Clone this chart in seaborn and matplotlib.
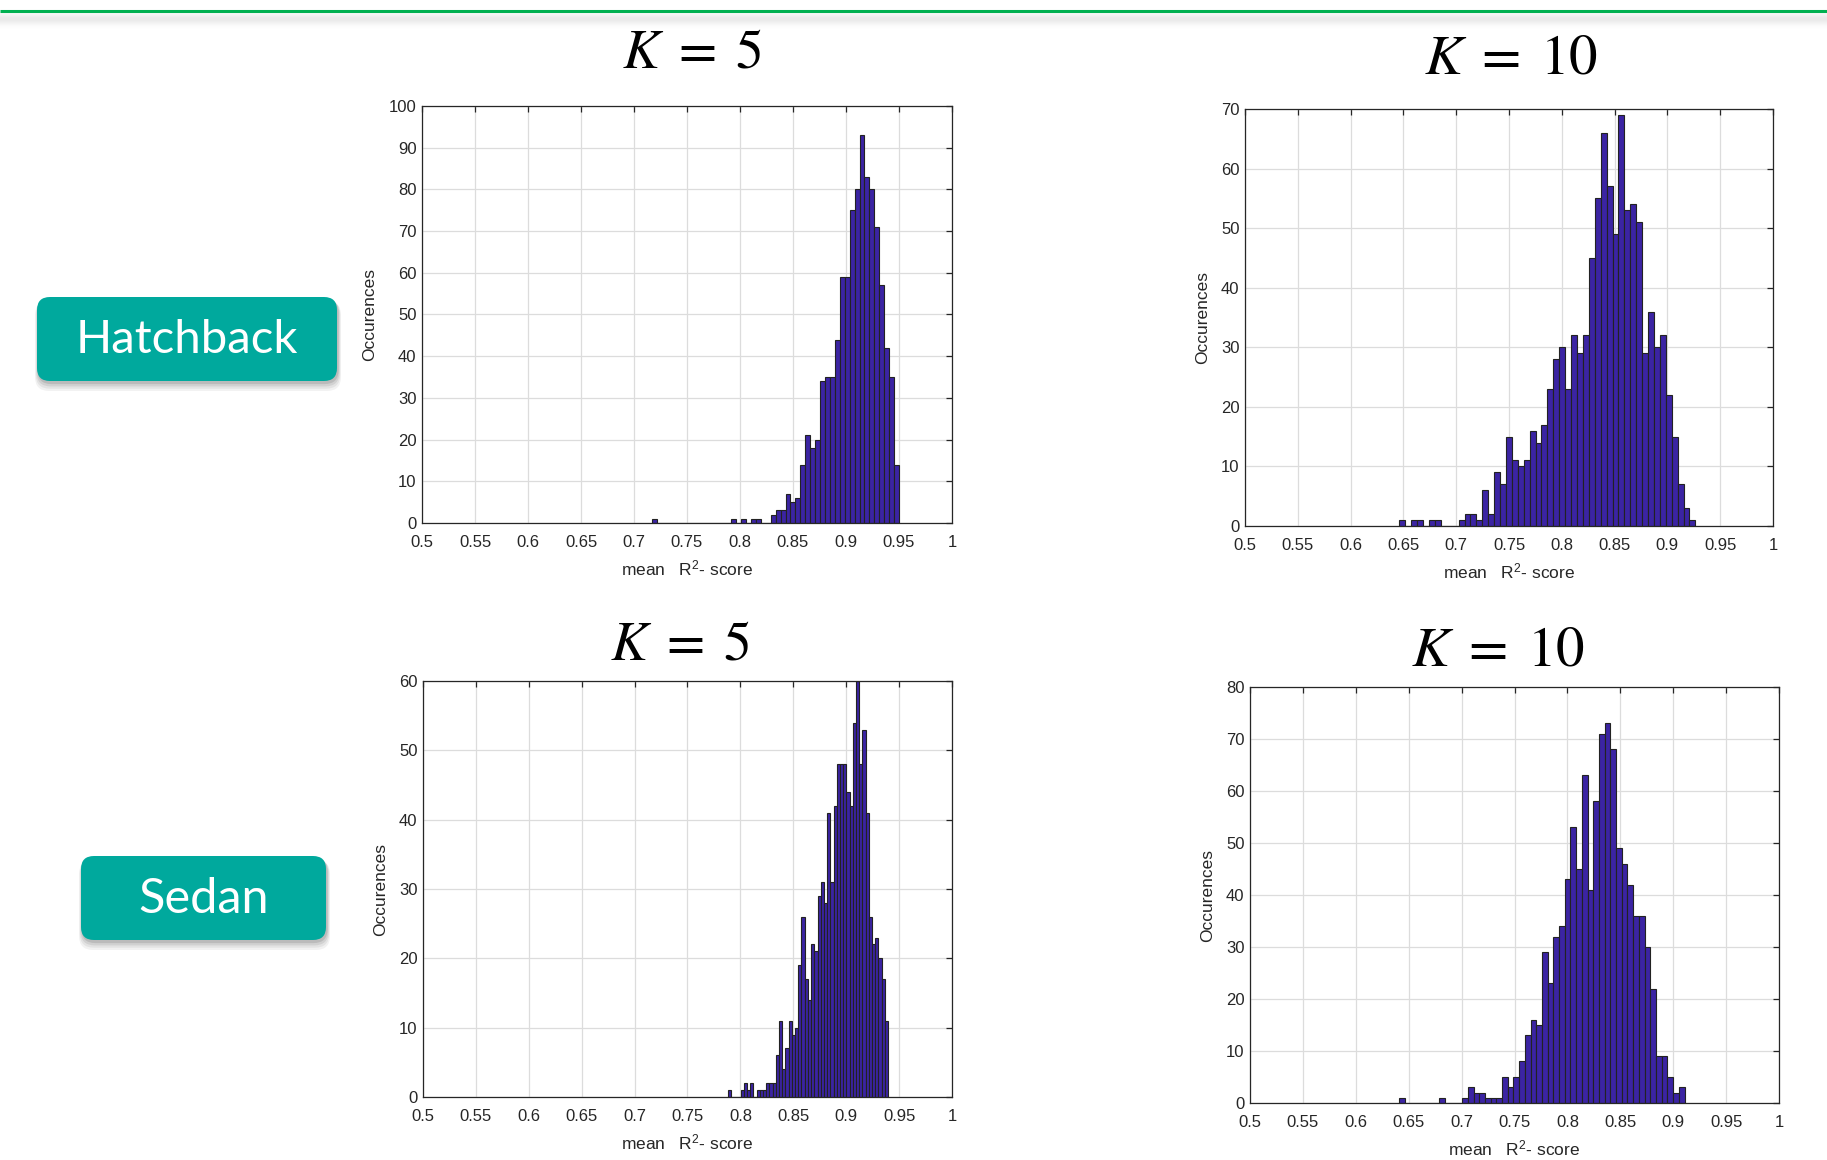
import numpy as np
import pandas as pd
import matplotlib
matplotlib.use("Agg")
import matplotlib.pyplot as plt
import seaborn as sns
from matplotlib.patches import FancyBboxPatch

# ---------------- data ----------------
# 50-bin histograms of the mean R^2 score (1000 runs each)
hatch_k5_counts = [1, 0, 0, 0, 0, 0, 0, 0, 0, 0,
                   0, 0, 0, 0, 0, 0, 1, 0, 1, 0,
                   1, 1, 0, 0, 2, 3, 3, 7, 5, 6,
                   14, 21, 18, 20, 34, 35, 35, 44, 59, 59,
                   75, 80, 93, 83, 80, 71, 57, 42, 35, 14]
hatch_k5_range = (0.7173, 0.9500)

hatch_k10_counts = [1, 0, 1, 1, 0, 1, 1, 0, 0, 0,
                    1, 2, 2, 1, 6, 2, 9, 7, 15, 11,
                    10, 11, 16, 14, 17, 23, 28, 30, 23, 32,
                    29, 32, 45, 55, 66, 57, 49, 69, 53, 54,
                    51, 29, 36, 30, 32, 22, 15, 7, 3, 1]
hatch_k10_range = (0.6462, 0.9265)

sedan_k5_counts = [1, 0, 0, 0, 1, 2, 1, 2, 0, 1,
                   1, 1, 2, 2, 2, 6, 11, 4, 7, 11,
                   9, 10, 19, 26, 17, 14, 22, 21, 29, 31,
                   28, 41, 31, 42, 48, 48, 48, 44, 42, 54,
                   60, 48, 53, 41, 26, 22, 23, 20, 17, 11]
sedan_k5_range = (0.7880, 0.9396)

sedan_k10_counts = [1, 0, 0, 0, 0, 0, 0, 1, 0, 0,
                    0, 1, 3, 2, 2, 1, 1, 1, 5, 3,
                    5, 8, 13, 16, 15, 29, 23, 32, 34, 43,
                    53, 45, 63, 41, 58, 71, 73, 68, 49, 46,
                    42, 36, 36, 30, 22, 9, 9, 5, 2, 3]
sedan_k10_range = (0.6412, 0.9107)

panel_titles = ["$K\\;=\\;5$", "$K\\;=\\;10$", "$K\\;=\\;5$", "$K\\;=\\;10$"]
y_max = [100, 70, 60, 80]
x_tick_values = [0.5, 0.55, 0.6, 0.65, 0.7, 0.75, 0.8, 0.85, 0.9, 0.95, 1.0]
x_tick_labels = ["0.5", "0.55", "0.6", "0.65", "0.7", "0.75", "0.8", "0.85", "0.9", "0.95", "1"]
row_labels = ["Hatchback", "Sedan"]
x_label = "mean   $\\mathregular{R^2}$- score"
y_label = "Occurences"

# ---------------- style ----------------
sns.set_theme(style="white")
plt.rcParams["font.family"] = ["Liberation Sans", "DejaVu Sans"]
plt.rcParams["mathtext.fontset"] = "stix"

W, H = 1827, 1160
BAR = "#3b24a3"
EDGE = "#222222"
TEAL = "#00a99d"
TXT = "#262626"

fig = plt.figure(figsize=(W / 100, H / 100), dpi=100)
fig.patch.set_facecolor("white")

# background "slide" axes in pixel coordinates
bg = fig.add_axes([0, 0, 1, 1])
bg.set_xlim(0, W)
bg.set_ylim(H, 0)
bg.axis("off")

# top green rule with soft shadow
yy = np.linspace(12, 32, 40)
shade = 1 - 0.085 * np.exp(-((yy - 19) / 5.5) ** 2)
bg.imshow(shade[:, None], extent=[0, W, 32, 12], cmap="gray", vmin=0, vmax=1,
          aspect="auto", interpolation="bilinear", zorder=1)
bg.plot([0, W], [10.7, 10.7], color="#00b050", lw=2.2, solid_capstyle="butt", zorder=2)
bg.set_xlim(0, W)
bg.set_ylim(H, 0)


def label_box(x0, y0, x1, y1, text, fs):
    w, h = x1 - x0, y1 - y0
    for i, a in enumerate([0.05, 0.06, 0.08, 0.10]):
        off = 7 - i * 1.5
        grow = 3 - i * 0.8
        sh = FancyBboxPatch((x0 - grow + 1, y0 + off - grow), w + 2 * grow, h + 2 * grow,
                            boxstyle="round,pad=0,rounding_size=14",
                            facecolor="black", edgecolor="none", alpha=a, zorder=3)
        bg.add_patch(sh)
    box = FancyBboxPatch((x0, y0), w, h, boxstyle="round,pad=0,rounding_size=13",
                         facecolor=TEAL, edgecolor="none", zorder=4)
    bg.add_patch(box)
    bg.text((x0 + x1) / 2, (y0 + y1) / 2 + 1, text, color="white", fontsize=fs,
            ha="center", va="center", family=["Lato", "DejaVu Sans"], zorder=5)


label_box(37, 297, 337, 381, row_labels[0], 34)
label_box(81, 856, 326, 940, row_labels[1], 35)

# panel titles
title_pos = [(692, 54, 40), (1511, 58, 41), (680, 646, 40), (1498, 650, 41)]
for (tx, ty, fs), t in zip(title_pos, panel_titles):
    bg.text(tx, ty, t, fontsize=fs, ha="center", va="center", color="black")

# histogram panels: pixel rects (left, top, right, bottom)
rects = [(422, 106, 952, 523), (1245, 109, 1773, 526),
         (423, 681, 952, 1097), (1250, 687, 1779, 1103)]
data = [(hatch_k5_counts, hatch_k5_range), (hatch_k10_counts, hatch_k10_range),
        (sedan_k5_counts, sedan_k5_range), (sedan_k10_counts, sedan_k10_range)]

for (l, t, r, b), (counts, (lo, hi)), ym in zip(rects, data, y_max):
    ax = fig.add_axes([l / W, 1 - b / H, (r - l) / W, (b - t) / H])
    edges = np.linspace(lo, hi, len(counts) + 1)
    centers = (edges[:-1] + edges[1:]) / 2
    df = pd.DataFrame({"score": centers, "n": counts})
    sns.histplot(data=df, x="score", weights="n", bins=edges.tolist(), ax=ax,
                 color=BAR, edgecolor=EDGE, linewidth=0.8, alpha=1.0)
    ax.set_xlim(0.5, 1.0)
    ax.set_ylim(0, ym)
    ax.set_xticks(x_tick_values)
    ax.set_xticklabels(x_tick_labels)
    ax.set_yticks(list(range(0, ym + 1, 10)))
    ax.grid(True, color="#dcdcdc", linewidth=0.9)
    ax.set_axisbelow(True)
    ax.tick_params(axis="both", direction="in", length=4, width=0.9,
                   top=True, right=True, labelsize=12, colors=TXT)
    ax.tick_params(axis="x", pad=8.5)
    ax.tick_params(axis="y", pad=4)
    for sp in ax.spines.values():
        sp.set_visible(True)
        sp.set_color(TXT)
        sp.set_linewidth(0.9)
    ax.set_facecolor("white")
    ax.set_xlabel(x_label, fontsize=12.5, color=TXT, labelpad=6)
    ax.set_ylabel(y_label, fontsize=12.5, color=TXT, labelpad=8)

fig.savefig("out.png", dpi=100, facecolor="white")
